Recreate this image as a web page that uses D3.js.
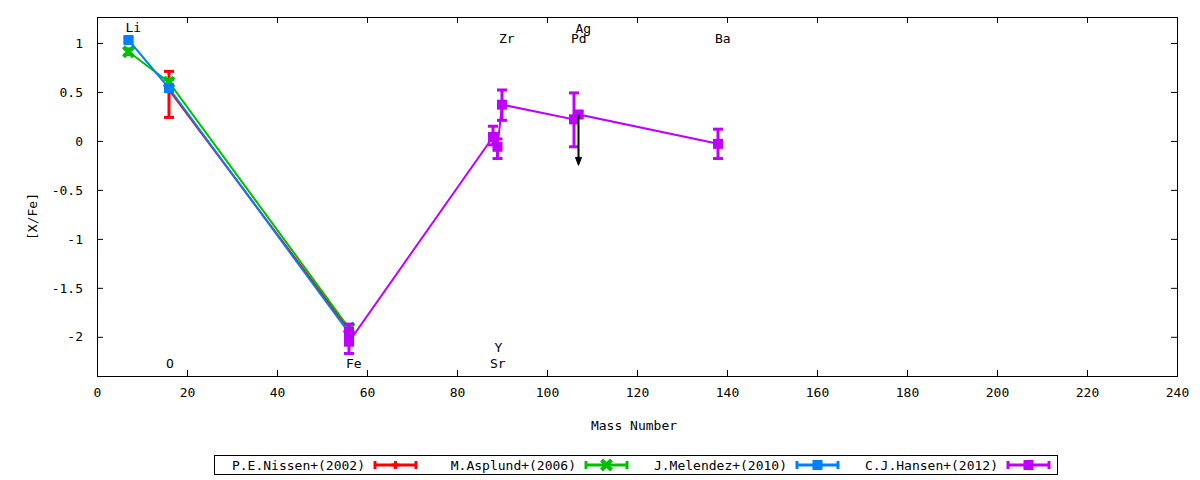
<!DOCTYPE html>
<html>
<head>
<meta charset="utf-8">
<script src="https://cdn.jsdelivr.net/npm/d3@7"></script>
<style>
  body { margin: 0; background: #fff; }
  svg text { font-family: "DejaVu Sans Mono", monospace; font-size: 13px; fill: #000; }
</style>
</head>
<body>
<script>
// --- data ---
const seriesNames = ["P.E.Nissen+(2002)", "M.Asplund+(2006)", "J.Melendez+(2010)", "C.J.Hansen+(2012)"];
const seriesColors = ["#ff0000", "#00c000", "#0080ff", "#c000ff"];
const seriesShapes = ["plus", "cross", "square", "square"];

const nissenMass = [16, 56];
const nissenVal = [0.52, -1.93];
const nissenErrLo = [0.28, 0.0];
const nissenErrHi = [0.19, 0.0];

const asplundMass = [7, 16, 56];
const asplundVal = [0.91, 0.60, -1.91];
const asplundErrLo = [0.03, 0.03, 0.03];
const asplundErrHi = [0.03, 0.03, 0.03];

const melendezMass = [7, 16, 56];
const melendezVal = [1.03, 0.54, -1.96];
const melendezErrLo = [0.02, 0.02, 0.02];
const melendezErrHi = [0.02, 0.02, 0.02];

const hansenMass = [56, 56, 88, 89, 90, 106, 107, 138];
const hansenVal = [-1.95, -2.05, 0.04, -0.06, 0.37, 0.22, 0.27, -0.03];
const hansenErrLo = [0.05, 0.12, 0.08, 0.12, 0.16, 0.28, 0.03, 0.15];
const hansenErrHi = [0.08, 0.05, 0.11, 0.08, 0.15, 0.27, 0.03, 0.15];

// upper limit (Ag)
const limitMass = [107];
const limitFrom = [0.27];
const limitTo = [-0.25];

const elementNames = ["Li", "O", "Fe", "Sr", "Y", "Zr", "Pd", "Ag", "Ba"];
const elementMass = [7, 16, 56, 88, 89, 90, 106, 107, 138];
const elementLabelY = [1.16, -2.27, -2.27, -2.27, -2.11, 1.05, 1.05, 1.15, 1.05];

const xTicks = [0, 20, 40, 60, 80, 100, 120, 140, 160, 180, 200, 220, 240];
const yTicks = [1, 0.5, 0, -0.5, -1, -1.5, -2];

// --- layout ---
const width = 1200, height = 480;
const plotLeft = 97, plotRight = 1177, plotTop = 17, plotBottom = 376;

const x = d3.scaleLinear().domain([0, 240]).range([plotLeft, plotRight]);
const y = d3.scaleLinear().domain([-2.4, 1.265]).range([plotBottom, plotTop]);

const svg = d3.select("body").append("svg")
    .attr("width", width)
    .attr("height", height);

// frame
svg.append("rect")
   .attr("x", plotLeft + 0.5).attr("y", plotTop + 0.5)
   .attr("width", plotRight - plotLeft).attr("height", plotBottom - plotTop)
   .style("fill", "none").style("stroke", "#000").style("stroke-width", 1);

// axes with inward ticks, gnuplot style
const fmt = d => d3.format("")(d).replace("−", "-");
svg.append("g")
   .attr("transform", `translate(0,${plotBottom})`)
   .call(d3.axisBottom(x).tickValues(xTicks).tickSize(-6).tickPadding(12).tickFormat(fmt))
   .call(g => g.select(".domain").remove());
svg.append("g")
   .attr("transform", `translate(0,${plotTop})`)
   .call(d3.axisTop(x).tickValues(xTicks).tickSize(-6).tickFormat(""))
   .call(g => g.select(".domain").remove());
svg.append("g")
   .attr("transform", `translate(${plotLeft},0)`)
   .call(d3.axisLeft(y).tickValues(yTicks).tickSize(-6).tickPadding(14).tickFormat(fmt))
   .call(g => g.select(".domain").remove());
svg.append("g")
   .attr("transform", `translate(${plotRight},0)`)
   .call(d3.axisRight(y).tickValues(yTicks).tickSize(-6).tickFormat(""))
   .call(g => g.select(".domain").remove());
svg.selectAll(".tick text").style("font-family", "DejaVu Sans Mono, monospace").style("font-size", "13px");
svg.selectAll(".tick line").style("stroke", "#000");

// axis titles
svg.append("text")
   .attr("x", (plotLeft + plotRight) / 2 - 3)
   .attr("y", 430)
   .attr("text-anchor", "middle")
   .text("Mass Number");
svg.append("text")
   .attr("transform", `translate(37,${(plotTop + plotBottom) / 2 + 20}) rotate(-90)`)
   .attr("text-anchor", "middle")
   .text("[X/Fe]");

// element labels
svg.selectAll("text.elem")
   .data(elementNames)
   .enter()
   .append("text")
   .attr("class", "elem")
   .attr("x", (d, i) => x(elementMass[i]) - 3)
   .attr("y", (d, i) => y(elementLabelY[i]))
   .attr("dy", "0.35em")
   .text(d => d);

const series = [
    { mass: nissenMass, val: nissenVal, lo: nissenErrLo, hi: nissenErrHi },
    { mass: asplundMass, val: asplundVal, lo: asplundErrLo, hi: asplundErrHi },
    { mass: melendezMass, val: melendezVal, lo: melendezErrLo, hi: melendezErrHi },
    { mass: hansenMass, val: hansenVal, lo: hansenErrLo, hi: hansenErrHi }
];

const line = d3.line().x(d => x(d.m)).y(d => y(d.v));

function drawMarker(g, shape, cx, cy, color) {
    if (shape === "square") {
        g.append("rect").attr("x", cx - 5).attr("y", cy - 5).attr("width", 10).attr("height", 10)
         .style("fill", color);
    } else if (shape === "cross") {
        g.append("path").attr("d", `M${cx - 5},${cy - 5}L${cx + 5},${cy + 5}M${cx - 5},${cy + 5}L${cx + 5},${cy - 5}`)
         .style("stroke", color).style("stroke-width", 4);
    } else {
        g.append("path").attr("d", `M${cx - 4},${cy}L${cx + 4},${cy}M${cx},${cy - 4}L${cx},${cy + 4}`)
         .style("stroke", color).style("stroke-width", 3);
    }
}

series.forEach((s, k) => {
    const color = seriesColors[k];
    const pts = s.mass.map((m, i) => ({ m: m, v: s.val[i], lo: s.lo[i], hi: s.hi[i] }));
    const g = svg.append("g");
    g.append("path")
     .attr("d", line(pts))
     .style("fill", "none")
     .style("stroke", color)
     .style("stroke-width", 2);
    pts.forEach(p => {
        const cx = x(p.m);
        const y1 = y(p.v + p.hi), y2 = y(p.v - p.lo);
        g.append("line").attr("x1", cx).attr("x2", cx).attr("y1", y1).attr("y2", y2)
         .style("stroke", color).style("stroke-width", 3);
        [y1, y2].forEach(yy => {
            g.append("line").attr("x1", cx - 5).attr("x2", cx + 5).attr("y1", yy).attr("y2", yy)
             .style("stroke", color).style("stroke-width", 3);
        });
        drawMarker(g, seriesShapes[k], cx, y(p.v), color);
    });
});

// upper limit arrow
limitMass.forEach((m, i) => {
    const cx = x(m), y1 = y(limitFrom[i]), y2 = y(limitTo[i]);
    svg.append("line").attr("x1", cx).attr("x2", cx).attr("y1", y1).attr("y2", y2 - 6)
       .style("stroke", "#000").style("stroke-width", 2);
    svg.append("path")
       .attr("d", `M${cx - 3},${y2 - 8}L${cx + 3},${y2 - 8}L${cx},${y2}Z`)
       .style("fill", "#000").style("stroke", "#000").style("stroke-width", 1);
});

// legend
svg.append("rect")
   .attr("x", 214.5).attr("y", 455.5).attr("width", 843).attr("height", 19)
   .style("fill", "none").style("stroke", "#000").style("stroke-width", 1);
const legendX = d3.scaleLinear().domain([0, 1]).range([0, 211]);
seriesNames.forEach((name, k) => {
    const ox = 214 + legendX(k);
    const cy = 465;
    const color = seriesColors[k];
    svg.append("text")
       .attr("x", ox + 151)
       .attr("y", cy)
       .attr("dy", "0.35em")
       .attr("text-anchor", "end")
       .text(name);
    const g = svg.append("g");
    const x1 = ox + 161, x2 = ox + 202;
    g.append("line").attr("x1", x1).attr("x2", x2).attr("y1", cy).attr("y2", cy)
     .style("stroke", color).style("stroke-width", 3);
    [x1, x2].forEach(xx => {
        g.append("line").attr("x1", xx).attr("x2", xx).attr("y1", cy - 4).attr("y2", cy + 4)
         .style("stroke", color).style("stroke-width", 3);
    });
    drawMarker(g, seriesShapes[k], (x1 + x2) / 2, cy, color);
});
</script>
</body>
</html>
